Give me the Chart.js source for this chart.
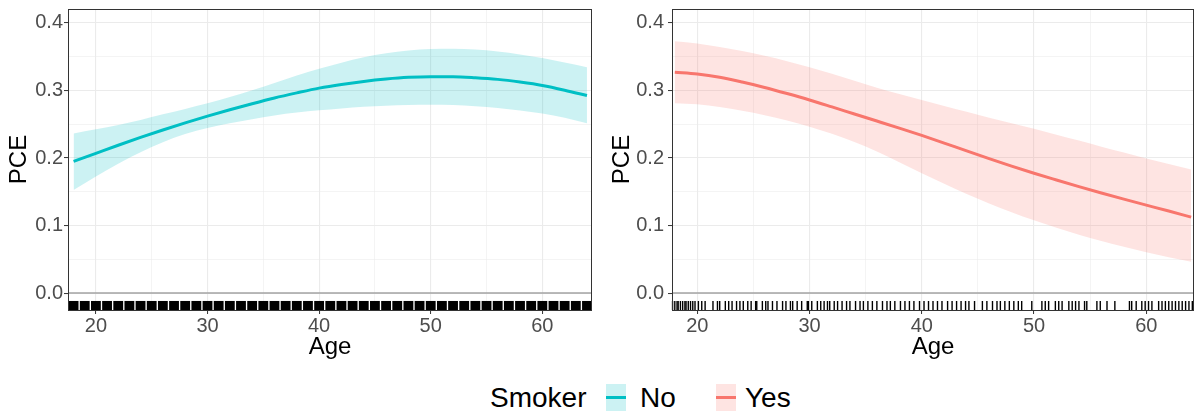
<!DOCTYPE html>
<html>
<head>
<meta charset="utf-8">
<script src="https://cdn.jsdelivr.net/npm/chart.js@4.4.1/dist/chart.umd.min.js"></script>
<style>
    body { margin: 0; background: #fff; width: 1195px; height: 413px; position: relative; overflow: hidden;
           font-family: "Liberation Sans", Arial, sans-serif; }
    .panel { position: absolute; top: 0; height: 370px; }
    .legend-item { position: absolute; top: 384px; font-size: 28px; line-height: 28px; color: #000; white-space: nowrap; }
    .legend-key { position: absolute; top: 384px; width: 20px; height: 27px; }
    .legend-key i { position: absolute; left: 0; right: 0; top: 12px; height: 3px; }
</style>
</head>
<body>
<div class="panel" style="left:0;width:597px"><canvas id="noChart"></canvas></div>
<div class="panel" style="left:597px;width:598px"><canvas id="yesChart"></canvas></div>

<span class="legend-item" id="legendTitle" style="left:490px"></span>
<span class="legend-key" id="keyNo" style="left:606px"><i></i></span>
<span class="legend-item" id="labelNo" style="left:640px"></span>
<span class="legend-key" id="keyYes" style="left:716px"><i></i></span>
<span class="legend-item" id="labelYes" style="left:745px"></span>

<script>
// --- data ---
const ages = [18, 20, 22, 24, 26, 28, 30, 32, 34, 36, 38, 40, 42, 44, 46, 48, 50, 52, 54, 56, 58, 60, 62, 64];

const noFit   = [0.195, 0.207, 0.219, 0.2305, 0.2415, 0.252, 0.262, 0.2715, 0.2805, 0.289, 0.2965, 0.3035,
                 0.309, 0.3135, 0.317, 0.3195, 0.3205, 0.3205, 0.319, 0.3165, 0.3125, 0.3075, 0.3005, 0.2925];
const noUpper = [0.2365, 0.2425, 0.249, 0.2565, 0.2648, 0.2728, 0.281, 0.2903, 0.3003, 0.311, 0.3222, 0.3322,
                 0.3412, 0.3492, 0.3552, 0.3592, 0.3614, 0.3618, 0.3606, 0.3578, 0.3535, 0.348, 0.3415, 0.3345];
const noLower = [0.1526, 0.1725, 0.1915, 0.2085, 0.2235, 0.2355, 0.2445, 0.2515, 0.2575, 0.263, 0.2673, 0.2707,
                 0.2735, 0.276, 0.2775, 0.2785, 0.279, 0.2785, 0.2768, 0.2742, 0.2705, 0.266, 0.2595, 0.2515];

const yesFit   = [0.327, 0.3243, 0.3195, 0.3125, 0.3045, 0.2955, 0.286, 0.2757, 0.2652, 0.2548, 0.2443, 0.2335,
                  0.2222, 0.2105, 0.1991, 0.1881, 0.1775, 0.1675, 0.1577, 0.1483, 0.1391, 0.1303, 0.1215, 0.1125];
const yesUpper = [0.373, 0.3697, 0.3645, 0.3585, 0.3515, 0.3435, 0.3345, 0.3248, 0.3145, 0.3042, 0.2948, 0.286,
                  0.2772, 0.2685, 0.2598, 0.2515, 0.2432, 0.2346, 0.2258, 0.2169, 0.2081, 0.1995, 0.1912, 0.183];
const yesLower = [0.281, 0.2795, 0.2755, 0.27, 0.2635, 0.2555, 0.2465, 0.2358, 0.2238, 0.2098, 0.1938, 0.1775,
                  0.1618, 0.1468, 0.1328, 0.1198, 0.1078, 0.0968, 0.0866, 0.0772, 0.0686, 0.0606, 0.0532, 0.0463];

// rug: non-smokers are dense at every age, smokers sparse
const noRugAges = [18, 19, 20, 21, 22, 23, 24, 25, 26, 27, 28, 29, 30, 31, 32, 33, 34, 35, 36, 37, 38, 39, 40, 41,
                   42, 43, 44, 45, 46, 47, 48, 49, 50, 51, 52, 53, 54, 55, 56, 57, 58, 59, 60, 61, 62, 63, 64];
const yesRugAges = [17.8, 18.0, 18.2, 18.3, 18.5, 18.7, 18.9, 19.0, 19.2, 19.4, 19.6, 19.8, 20.1, 20.4, 20.7,
                    21.4, 21.8, 22.0, 22.5, 22.8, 23.1, 23.5, 23.8, 24.1, 24.5, 24.8, 25.2, 25.3, 25.8, 26.1, 26.3,
                    26.7, 27.1, 27.6, 27.9, 28.3, 28.5, 28.9, 29.3, 29.8, 29.9, 30.2, 30.7, 31.0, 31.3, 31.6, 31.8,
                    32.2, 32.5, 32.9, 33.3, 33.6, 34.1, 34.5, 34.8, 35.2, 35.6, 36.0, 36.5, 36.9, 37.2, 37.6, 38.1,
                    38.5, 38.9, 39.3, 39.8, 40.2, 40.6, 41.0, 41.4, 41.8, 42.3, 42.7, 43.1, 43.5, 43.9, 44.2, 44.7,
                    45.4, 45.8, 46.3, 46.7, 47.0, 47.4, 47.8, 48.2, 48.6, 48.9, 49.8, 50.7, 51.0, 51.3, 51.9, 52.2,
                    52.5, 53.1, 53.4, 53.7, 54.0, 54.5, 54.7, 55.6, 55.9, 56.5, 57.2, 58.5, 58.7, 59.1, 59.6, 59.9,
                    60.2, 60.5, 61.1, 61.4, 61.7, 62.0, 62.3, 62.6, 62.9, 63.2, 63.5, 63.8, 64.1];

const xBreaks = [20, 25, 30, 35, 40, 45, 50, 55, 60];
const yBreaks = [0, 0.05, 0.1, 0.15, 0.2, 0.25, 0.3, 0.35, 0.4];
const refLineY = 0;

const groupNames = ['No', 'Yes'];
const legendName = 'Smoker';
const xTitle = 'Age';
const yTitle = 'PCE';

const COL_NO = '#00BFC4';
const COL_YES = '#F8766D';
const FILL_NO = 'rgba(0,191,196,0.2)';
const FILL_YES = 'rgba(248,118,109,0.2)';
const FONT = '"Liberation Sans", Arial, sans-serif';

Chart.defaults.font.family = FONT;

const isMajorX = v => v % 10 === 0;
const isMajorY = v => Math.abs(v * 10 - Math.round(v * 10)) < 1e-6;

// zero reference line, rug and the panel border
const panelDecor = {
    id: 'panelDecor',
    beforeDatasetsDraw(chart) {
        const { ctx, chartArea: a, scales: { y } } = chart;
        const y0 = y.getPixelForValue(refLineY);
        ctx.save();
        ctx.strokeStyle = '#a3a3a3';
        ctx.lineWidth = 1.5;
        ctx.beginPath(); ctx.moveTo(a.left, y0); ctx.lineTo(a.right, y0); ctx.stroke();
        ctx.restore();
    },
    afterDatasetsDraw(chart, args, opts) {
        const { ctx, chartArea: a, scales: { x } } = chart;
        const top = a.bottom - (a.bottom - a.top) * 0.03;
        ctx.save();
        ctx.fillStyle = '#000';
        ctx.strokeStyle = '#000';
        (opts.ages || []).forEach(v => {
            if (opts.span) {
                const l = Math.max(a.left, x.getPixelForValue(v - opts.span / 2));
                const r = Math.min(a.right, x.getPixelForValue(v + opts.span / 2));
                ctx.fillRect(l, top, r - l, a.bottom - top);
            } else {
                const px = x.getPixelForValue(v);
                ctx.lineWidth = 1.4;
                ctx.beginPath(); ctx.moveTo(px, top); ctx.lineTo(px, a.bottom); ctx.stroke();
            }
        });
        ctx.strokeStyle = '#333';
        ctx.lineWidth = 1;
        ctx.strokeRect(Math.round(a.left) + 0.5, Math.round(a.top) + 0.5,
                       Math.round(a.right - a.left) - 1, Math.round(a.bottom - a.top));
        ctx.restore();
    }
};

function makePanel(id, fit, upper, lower, color, fill, rug, o) {
    const pts = arr => ages.map((a, i) => ({ x: a, y: arr[i] }));
    return new Chart(document.getElementById(id), {
        type: 'line',
        data: {
            datasets: [
                { data: pts(fit), borderColor: color, borderWidth: 3, pointRadius: 0, fill: false, cubicInterpolationMode: 'monotone' },
                { data: pts(upper), borderWidth: 0, borderColor: 'rgba(0,0,0,0)', backgroundColor: fill, pointRadius: 0, fill: '+1', cubicInterpolationMode: 'monotone' },
                { data: pts(lower), borderWidth: 0, borderColor: 'rgba(0,0,0,0)', pointRadius: 0, fill: false, cubicInterpolationMode: 'monotone' }
            ]
        },
        plugins: [panelDecor],
        options: {
            responsive: true, maintainAspectRatio: false, animation: false, events: [],
            layout: { padding: { top: 9, right: o.padRight, left: 0, bottom: 0 } },
            plugins: {
                legend: { display: false }, tooltip: { enabled: false },
                panelDecor: rug
            },
            scales: {
                x: {
                    type: 'linear', min: o.xMin, max: o.xMax,
                    afterBuildTicks: s => { s.ticks = xBreaks.map(v => ({ value: v })); },
                    afterFit: s => { s.height = 60; s.paddingLeft = 0; s.paddingRight = 0; },
                    ticks: { color: '#4d4d4d', font: { size: 20 }, padding: 0, autoSkip: false, maxRotation: 0,
                             callback: v => isMajorX(v) ? String(v) : '' },
                    grid: { color: '#ebebeb', lineWidth: c => isMajorX(c.tick.value) ? 1.1 : 0.55,
                            tickLength: 4, tickWidth: 1,
                            tickColor: c => isMajorX(c.tick.value) ? '#333' : 'rgba(0,0,0,0)' },
                    border: { display: false },
                    title: { display: true, text: xTitle, color: '#000', font: { size: 24 }, padding: { top: 0, bottom: 8 } }
                },
                y: {
                    min: -0.025, max: 0.4207,
                    afterBuildTicks: s => { s.ticks = yBreaks.map(v => ({ value: v })); },
                    afterFit: s => { s.width = o.yWidth; s.paddingTop = 0; s.paddingBottom = 0; },
                    ticks: { color: '#4d4d4d', font: { size: 20 }, padding: o.tickPad,
                             callback: v => isMajorY(v) ? v.toFixed(1) : '' },
                    grid: { color: '#ebebeb', lineWidth: c => isMajorY(c.tick.value) ? 1.1 : 0.55,
                            tickLength: 4, tickWidth: 1,
                            tickColor: c => isMajorY(c.tick.value) ? '#333' : 'rgba(0,0,0,0)' },
                    border: { display: false },
                    title: { display: true, text: yTitle, color: '#000', font: { size: 24 }, padding: { top: o.titlePad, bottom: 0 } }
                }
            }
        }
    });
}

makePanel('noChart', noFit, noUpper, noLower, COL_NO, FILL_NO,
          { ages: noRugAges, span: 0.88 },
          { xMin: 17.5, xMax: 64.45, padRight: 5, yWidth: 68, tickPad: 1, titlePad: 5 });
makePanel('yesChart', yesFit, yesUpper, yesLower, COL_YES, FILL_YES,
          { ages: yesRugAges },
          { xMin: 17.75, xMax: 64.25, padRight: 1, yWidth: 75, tickPad: 4, titlePad: 11 });

// legend
document.getElementById('legendTitle').textContent = legendName;
document.getElementById('labelNo').textContent = groupNames[0];
document.getElementById('labelYes').textContent = groupNames[1];
const keyNo = document.getElementById('keyNo'), keyYes = document.getElementById('keyYes');
keyNo.style.background = FILL_NO; keyNo.firstChild.style.background = COL_NO;
keyYes.style.background = FILL_YES; keyYes.firstChild.style.background = COL_YES;
</script>
</body>
</html>
